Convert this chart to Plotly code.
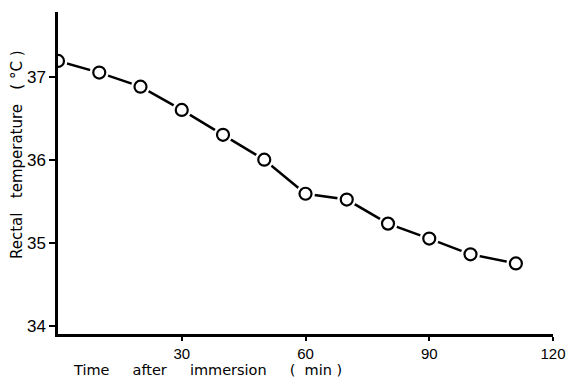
import plotly.graph_objects as go

time_min = [0, 10, 20, 30, 40, 50, 60, 70, 80, 90, 100, 111]
rectal_temp = [37.19, 37.05, 36.88, 36.6, 36.3, 36.0, 35.59, 35.52, 35.23, 35.05, 34.86, 34.75]
x_ticks = [30, 60, 90, 120]
y_ticks = [34, 35, 36, 37]

FONT = "Liberation Sans"
TFONT = "DejaVu Sans"
NB = "\u00a0"

fig = go.Figure()
fig.add_trace(go.Scatter(x=time_min, y=rectal_temp, mode="lines",
                         line=dict(color="black", width=2.5), hoverinfo="skip"))
fig.add_trace(go.Scatter(x=time_min, y=rectal_temp, mode="markers",
                         marker=dict(symbol="circle", size=19, color="white",
                                     line=dict(width=0)), hoverinfo="skip"))
fig.add_trace(go.Scatter(x=time_min, y=rectal_temp, mode="markers",
                         marker=dict(symbol="circle-open", size=12, color="black",
                                     line=dict(width=2.2, color="black"))))

W, H = 571, 380
L, R, T, B = 58, 18, 12, 46
fig.update_layout(
    width=W, height=H,
    margin=dict(l=L, r=R, t=T, b=B, autoexpand=False),
    paper_bgcolor="white", plot_bgcolor="white",
    showlegend=False,
    font=dict(family=FONT, size=16, color="black"),
    xaxis=dict(range=[0, 120], tickvals=x_ticks, ticks="outside", ticklen=4,
               tickwidth=2, tickcolor="black", showgrid=False, zeroline=False,
               showline=True, linecolor="black", linewidth=2.5, automargin=False,
               tickfont=dict(family=FONT, size=15)),
    yaxis=dict(range=[33.9, 37.78], tickvals=y_ticks, ticks="outside", ticklen=6,
               tickwidth=2, tickcolor="black", showgrid=False, zeroline=False,
               showline=True, linecolor="black", linewidth=2.5, automargin=False,
               tickfont=dict(family=FONT, size=17)),
    annotations=[
        dict(text=f"Time{NB*5}after{NB*5}immersion{NB*5}({NB*2}min{NB})", xref="paper", yref="paper",
             x=(207 - L) / (W - L - R), y=-(369.5 - (H - B)) / (H - T - B),
             xanchor="center", yanchor="middle", showarrow=False,
             font=dict(family=TFONT, size=14.5)),
        dict(text=f"Rectal{NB*3}temperature{NB*3}({NB}°C{NB})", xref="paper", yref="paper",
             x=-(L - 17) / (W - L - R), y=((H - B) - 155) / (H - T - B),
             xanchor="center", yanchor="middle", textangle=-90, showarrow=False,
             font=dict(family=TFONT, size=15)),
    ],
)

fig.write_html("out.html", config={"displayModeBar": False},
               post_script="document.body.style.margin='0';")
